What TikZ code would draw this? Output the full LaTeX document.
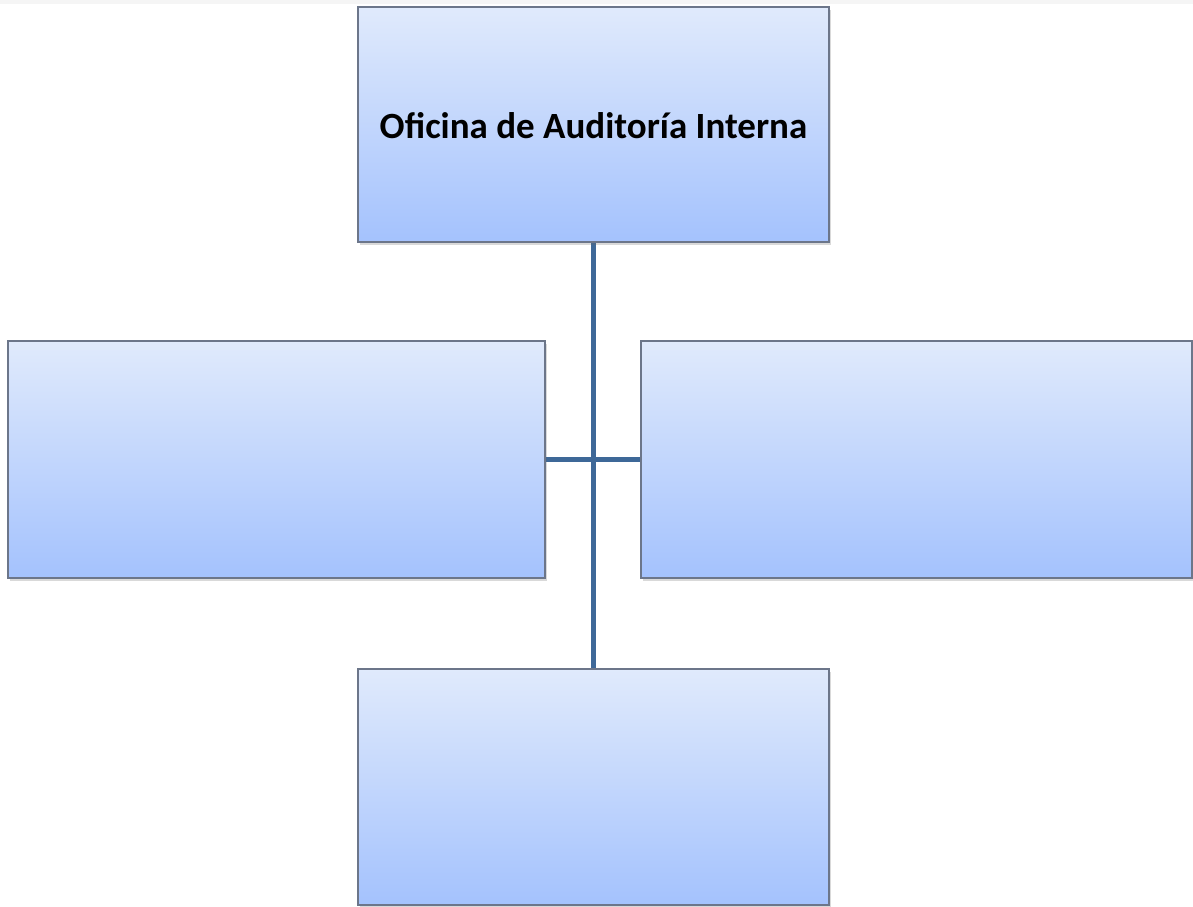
\documentclass[tikz,border=0pt]{standalone}
\usepackage{fontspec}
\setmainfont{Carlito}
\usetikzlibrary{shadows}
\definecolor{boxtop}{RGB}{224,234,252}
\definecolor{boxbot}{RGB}{164,194,253}
\definecolor{boxline}{RGB}{108,118,138}
\definecolor{conn}{RGB}{62,104,152}
\tikzset{
  orgbox/.style={draw=boxline, line width=1.2pt, top color=boxtop, bottom color=boxbot,
    drop shadow={shadow xshift=2pt, shadow yshift=-3pt, opacity=0.25, fill=black!60}},
  connline/.style={draw=conn, line width=5pt}
}
\begin{document}
\begin{tikzpicture}[x=1pt,y=-1pt]
\useasboundingbox (0,0) rectangle (1193,906);
\fill[black!4] (0,0) rectangle (1193,4);
\coordinate (tA) at (358,7); \coordinate (tB) at (829,242);
\coordinate (lA) at (8,341); \coordinate (lB) at (545,578);
\coordinate (rA) at (641,341); \coordinate (rB) at (1192,578);
\coordinate (bA) at (358,669); \coordinate (bB) at (829,905);
\path[connline] (593.5,242) coordinate (v1) -- (593.5,669) coordinate (v2);
\path[connline] (545,459.5) coordinate (h1) -- (641,459.5) coordinate (h2);
\path[orgbox] (tA) rectangle (tB);
\path[orgbox] (lA) rectangle (lB);
\path[orgbox] (rA) rectangle (rB);
\path[orgbox] (bA) rectangle (bB);
\node[font=\fontsize{37}{44}\selectfont\bfseries] (title) at (593.5,126) {Oficina de Auditoría Interna};
\end{tikzpicture}
\end{document}
